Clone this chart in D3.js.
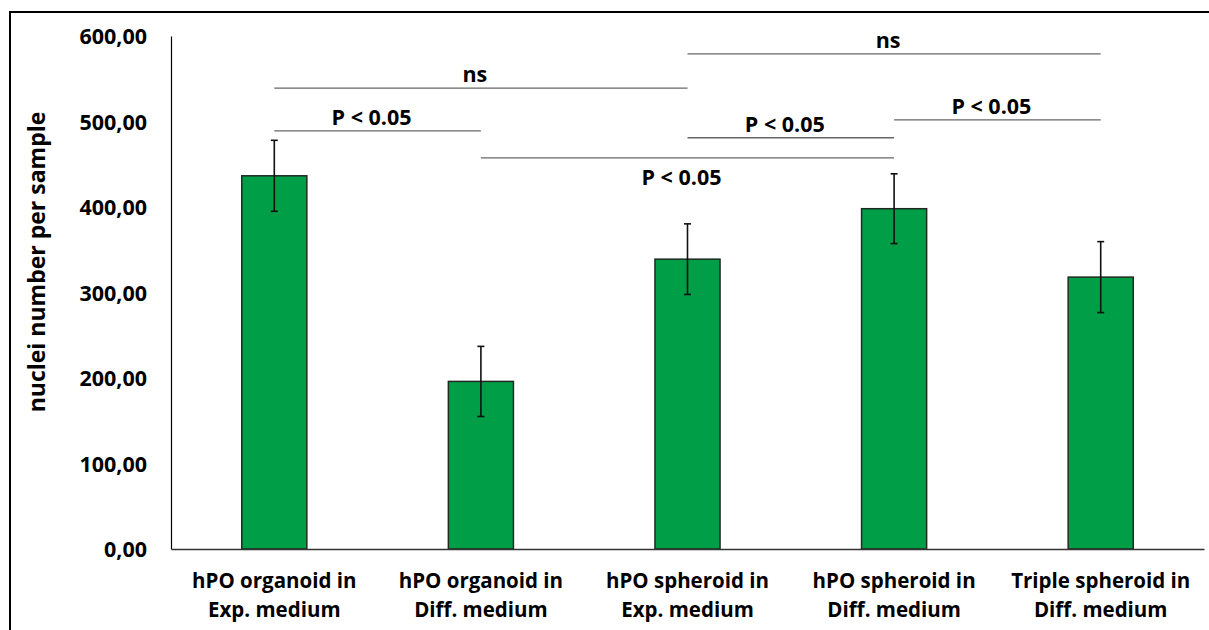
<!DOCTYPE html>
<html>
<head>
<meta charset="utf-8">
<script src="https://cdn.jsdelivr.net/npm/d3@7"></script>
<style>
  body { margin: 0; background: #fff; }
  svg text { font-family: "Open Sans", sans-serif; font-weight: bold; fill: #000; }
</style>
</head>
<body>
<svg id="chart" width="1209" height="630"></svg>
<script>
const categories = [
  ['hPO organoid in', 'Exp. medium'],
  ['hPO organoid in', 'Diff. medium'],
  ['hPO spheroid in', 'Exp. medium'],
  ['hPO spheroid in', 'Diff. medium'],
  ['Triple spheroid in', 'Diff. medium']
];
const values = [436.5, 196, 339, 398, 318];
const errors = [41.5, 41, 41.3, 40.8, 41.5];
const yTicks = [0, 100, 200, 300, 400, 500, 600];

// significance brackets: from bar, to bar, level (data units), label, label below line?
const comparisons = [
  { from: 0, to: 2, level: 539, label: 'ns', below: false },
  { from: 0, to: 1, level: 489, label: 'P < 0.05', below: false },
  { from: 1, to: 3, level: 457.5, label: 'P < 0.05', below: true },
  { from: 2, to: 3, level: 481, label: 'P < 0.05', below: false },
  { from: 2, to: 4, level: 579, label: 'ns', below: false },
  { from: 3, to: 4, level: 502, label: 'P < 0.05', below: false }
];

const svg = d3.select('#chart');
const margin = { top: 36, right: 5, bottom: 81, left: 171 };
const width = 1209 - margin.left - margin.right;
const height = 630 - margin.top - margin.bottom;

// outer frame
svg.append('rect')
  .attr('x', 10).attr('y', 12)
  .attr('width', 1220).attr('height', 640)
  .attr('fill', 'none')
  .attr('stroke', '#000')
  .attr('stroke-width', 2);

const g = svg.append('g')
  .attr('transform', `translate(${margin.left},${margin.top})`);

const idx = categories.map((d, i) => i);
const x = d3.scaleBand()
  .domain(idx)
  .range([0, width])
  .paddingInner(0.685)
  .paddingOuter(0.3425);

const y = d3.scaleLinear()
  .domain([0, 600])
  .range([height, 0]);

const fmt = v => d3.format('.2f')(v).replace('.', ',');

// y axis
const yAxis = g.append('g')
  .call(d3.axisLeft(y).tickValues(yTicks).tickSize(0).tickPadding(24).tickFormat(fmt));
yAxis.select('.domain').attr('stroke', '#000').attr('stroke-width', 1.2);
yAxis.selectAll('text').style('font-size', '21.5px').attr('dy', '0.35em');

// bars
g.selectAll('.bar')
  .data(values)
  .enter().append('rect')
  .attr('class', 'bar')
  .attr('x', (d, i) => x(i))
  .attr('y', d => y(d))
  .attr('width', x.bandwidth())
  .attr('height', d => height - y(d))
  .attr('fill', '#009E47')
  .attr('stroke', '#1e2a22')
  .attr('stroke-width', 1.5);

// x axis
const xAxis = g.append('g')
  .attr('transform', `translate(0,${height})`)
  .call(d3.axisBottom(x).tickSize(0).tickFormat(''));
xAxis.select('.domain').attr('stroke', '#333').attr('stroke-width', 1.5);
xAxis.selectAll('.tick').each(function (d) {
  const t = d3.select(this).append('text')
    .attr('text-anchor', 'middle')
    .style('font-size', '20.5px');
  categories[d].forEach((line, k) => {
    t.append('tspan').attr('x', 0).attr('y', 39 + k * 29).text(line);
  });
});

// error bars
const cx = i => x(i) + x.bandwidth() / 2;
const eb = g.selectAll('.err')
  .data(values)
  .enter().append('g')
  .attr('class', 'err')
  .attr('stroke', '#111')
  .attr('stroke-width', 1.6);
eb.append('line')
  .attr('x1', (d, i) => cx(i)).attr('x2', (d, i) => cx(i))
  .attr('y1', (d, i) => y(d + errors[i])).attr('y2', (d, i) => y(d - errors[i]));
eb.append('line')
  .attr('x1', (d, i) => cx(i) - 3.5).attr('x2', (d, i) => cx(i) + 3.5)
  .attr('y1', (d, i) => y(d + errors[i])).attr('y2', (d, i) => y(d + errors[i]));
eb.append('line')
  .attr('x1', (d, i) => cx(i) - 3.5).attr('x2', (d, i) => cx(i) + 3.5)
  .attr('y1', (d, i) => y(d - errors[i])).attr('y2', (d, i) => y(d - errors[i]));

// significance brackets
const sig = g.selectAll('.sig')
  .data(comparisons)
  .enter().append('g')
  .attr('class', 'sig');
sig.append('line')
  .attr('x1', d => cx(d.from)).attr('x2', d => cx(d.to))
  .attr('y1', d => y(d.level)).attr('y2', d => y(d.level))
  .attr('stroke', '#666')
  .attr('stroke-width', 1.3);
sig.append('text')
  .attr('x', d => (cx(d.from) + cx(d.to)) / 2 - 6)
  .attr('y', d => y(d.level) + (d.below ? 27 : -6))
  .attr('text-anchor', 'middle')
  .style('font-size', '21.5px')
  .text(d => d.label);

// y axis title
svg.append('text')
  .attr('transform', 'translate(45,262) rotate(-90)')
  .attr('text-anchor', 'middle')
  .style('font-size', '23px')
  .text('nuclei number per sample');
</script>
</body>
</html>
